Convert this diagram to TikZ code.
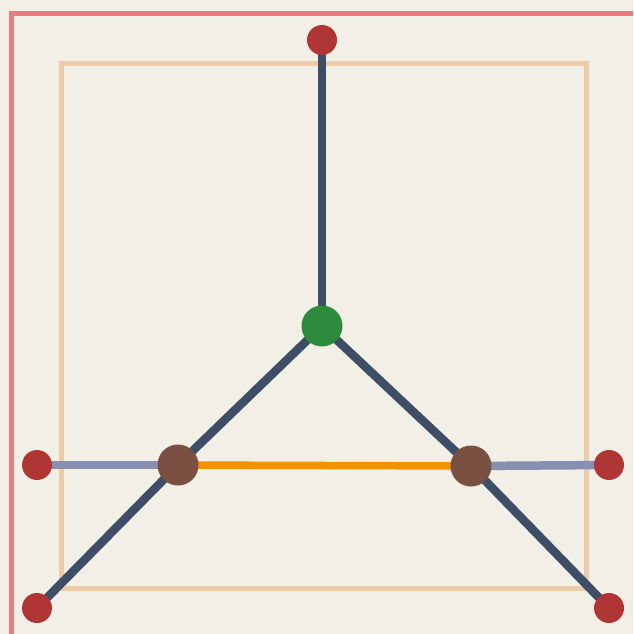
\documentclass[tikz,border=0pt]{standalone}
\usetikzlibrary{backgrounds}
\definecolor{bgc}{HTML}{F2F0E6}
\definecolor{pinkc}{HTML}{EC7B80}
\definecolor{tanc}{HTML}{EDCBA8}
\definecolor{slatec}{HTML}{3D4E66}
\definecolor{grayblue}{HTML}{8790B0}
\definecolor{orangec}{HTML}{F39200}
\definecolor{greenc}{HTML}{2E8B3E}
\definecolor{brownc}{HTML}{7A5042}
\definecolor{redc}{HTML}{B03535}
\begin{document}
\begin{tikzpicture}[x=1pt,y=-1pt,
  dot/.style={circle,inner sep=0pt,minimum size=#1},
  leaf/.style={dot=30pt,fill=redc},
  hub/.style={dot=41pt,fill=greenc},
  mid/.style={dot=41pt,fill=brownc},
  spoke/.style={line width=8.5pt,draw=slatec},
  side/.style={line width=8.5pt,draw=grayblue},
  base/.style={line width=7.5pt,draw=orangec}]
\useasboundingbox (0,0) rectangle (633,634);
\node[leaf] (top) at (322,40) {};
\node[hub] (g) at (322,326) {};
\node[mid] (bl) at (178,465) {};
\node[mid] (br) at (471,466) {};
\node[leaf] (l) at (37,465) {};
\node[leaf] (r) at (609,465) {};
\node[leaf] (ll) at (37,608) {};
\node[leaf] (lr) at (609,608) {};
\begin{scope}[on background layer]
\clip (0,0) rectangle (633,634);
\fill[bgc] (0,0) rectangle (633,634);
\draw[pinkc,line width=5pt] (11.5,13.5) rectangle (700,700);
\draw[tanc,line width=5pt] (61.5,63.5) rectangle (586,588);
\draw[spoke] (top.center) -- (g.center);
\draw[spoke] (g.center) -- (bl.center);
\draw[spoke] (bl.center) -- (ll.center);
\draw[spoke] (g.center) -- (br.center);
\draw[spoke] (br.center) -- (lr.center);
\draw[side] (l.center) -- (bl.center);
\draw[side] (br.center) -- (r.center);
\draw[base] (bl.center) -- (br.center);
\end{scope}
\end{tikzpicture}
\end{document}
